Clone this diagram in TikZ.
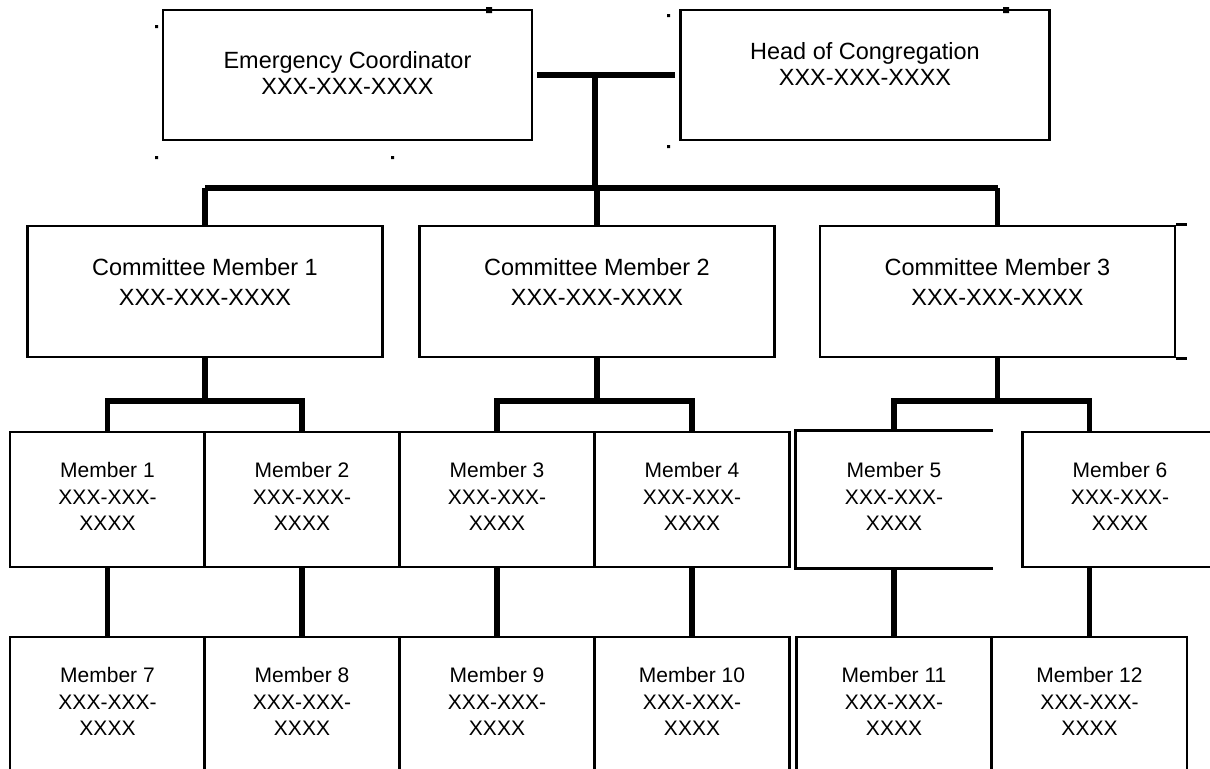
\documentclass[tikz,border=0pt]{standalone}
\usepackage{fontspec}
\setmainfont{Liberation Sans}
\usetikzlibrary{calc,positioning}

\begin{document}
\begin{tikzpicture}[x=0.75pt, y=-0.75pt,
  box/.style={draw, line width=2.1pt, inner sep=0pt, align=center},
  headbox/.style={box, minimum width=276.75pt, font=\fontsize{17.6}{19.5}\selectfont},
  cmbox/.style={box, minimum width=266.25pt, text height=59.6pt, text depth=38.6pt, font=\fontsize{17.6}{22.5}\selectfont},
  mbox/.style={box, minimum width=146.25pt, text height=73.95pt, text depth=27.3pt, font=\fontsize{15.75}{19.9}\selectfont},
  link/.style={line width=4.4pt}
]
\useasboundingbox (0,0) rectangle (1210,768);

% top row
\node[headbox, text height=63.4pt, text depth=34.1pt] (ec) at (347.5,75) {Emergency Coordinator\\XXX-XXX-XXXX};
\node[headbox, text height=56.6pt, text depth=40.9pt] (hoc) at (865,75) {Head of Congregation\\XXX-XXX-XXXX};

% committee
\node[cmbox] (cm1) at (205,291.5) {Committee Member 1\\XXX-XXX-XXXX};
\node[cmbox] (cm2) at (597,291.5) {Committee Member 2\\XXX-XXX-XXXX};
\node[cmbox] (cm3) at (997.5,291.5) {Committee Member 3\\XXX-XXX-XXXX};
\draw[line width=2.1pt] (cm3.north east) -- ++(11,0) (cm3.south east) -- ++(11,0);

% members, first row
\node[mbox] (m1) at (107.5,499.5) {Member 1\\XXX-XXX-\\XXXX};
\node[mbox] (m2) at (302,499.5) {Member 2\\XXX-XXX-\\XXXX};
\node[mbox] (m3) at (497,499.5) {Member 3\\XXX-XXX-\\XXXX};
\node[mbox] (m4) at (692,499.5) {Member 4\\XXX-XXX-\\XXXX};
\node[mbox, draw=none] (m5) at (894,499.5) {Member 5\\XXX-XXX-\\XXXX};
\draw[line width=2.1pt] (m5.north east) -- (m5.north west) -- (m5.south west) -- (m5.south east);
\node[mbox] (m6) at (1120,499.5) {Member 6\\XXX-XXX-\\XXXX};

% members, second row
\node[mbox] (m7) at (107.5,704.5) {Member 7\\XXX-XXX-\\XXXX};
\node[mbox] (m8) at (302,704.5) {Member 8\\XXX-XXX-\\XXXX};
\node[mbox] (m9) at (497,704.5) {Member 9\\XXX-XXX-\\XXXX};
\node[mbox] (m10) at (692,704.5) {Member 10\\XXX-XXX-\\XXXX};
\node[mbox] (m11) at (894,704.5) {Member 11\\XXX-XXX-\\XXXX};
\node[mbox] (m12) at (1089.5,704.5) {Member 12\\XXX-XXX-\\XXXX};

% connectors
\coordinate (jt) at ($(ec.east)!0.42!(hoc.west)$);
\coordinate (bus) at (595,188);
\coordinate (mbus) at (0,401);
\draw[link, shorten <=3pt, shorten >=3pt] (ec) -- (hoc);
\draw[link] (jt) -- (jt |- bus);
\draw[link] (cm1.north |- bus) -- (cm3.north |- bus);
\foreach \c in {cm1,cm2,cm3} { \draw[link] (\c.north |- bus) -- (\c.north); }
\foreach \c/\a/\b in {cm1/m1/m2, cm2/m3/m4} {
  \draw[link] (\c.south) -- (\c.south |- mbus);
  \draw[link] (\a.north) -- (\a.north |- mbus) -- (\b.north |- mbus) -- (\b.north);
}
\draw[link] (cm3.south) -- (cm3.south |- mbus);
\draw[link] (m5.north) -- (m5.north |- mbus) -- (m12.north |- mbus) -- (m6.north -| m12.north);
\foreach \a/\b in {m1/m7, m2/m8, m3/m9, m4/m10, m5/m11} { \draw[link] (\a.south) -- (\b.north); }
\draw[link] (m6.south -| m12.north) -- (m12.north);

% stray marks
\fill (155,25) rectangle ++(3,3) (155,156) rectangle ++(3,3) (391,156) rectangle ++(3,3);
\fill (667,14) rectangle ++(3,3) (667,145) rectangle ++(3,3);
\fill (486,7) rectangle ++(6,6) (1003,7) rectangle ++(6,6);
\end{tikzpicture}
\end{document}
